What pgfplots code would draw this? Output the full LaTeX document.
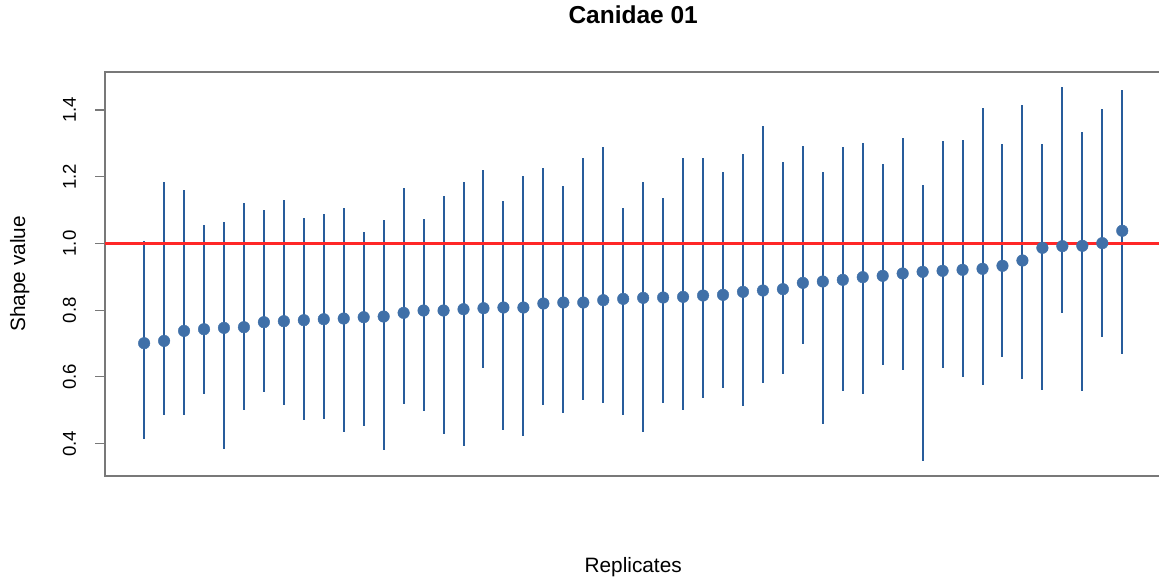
\documentclass[border=0pt]{standalone}
\usepackage{pgfplots}
\pgfplotsset{compat=1.18}
\usepackage{pgfplotstable}
\usepackage{fontspec}
\setmainfont{Liberation Sans}

\definecolor{dotblue}{RGB}{64,112,168}
\definecolor{barblue}{RGB}{40,92,155}
\definecolor{framegray}{RGB}{120,120,120}
\definecolor{refred}{RGB}{255,40,40}

% replicate, shape estimate, lower and upper interval bounds
\pgfplotstableread{
x  y     lo    hi
1  0.701 0.415 1.006
2  0.708 0.486 1.185
3  0.738 0.486 1.160
4  0.743 0.549 1.056
5  0.747 0.383 1.064
6  0.749 0.502 1.121
7  0.764 0.554 1.101
8  0.767 0.515 1.130
9  0.770 0.472 1.076
10 0.773 0.474 1.089
11 0.775 0.434 1.107
12 0.779 0.453 1.034
13 0.781 0.380 1.069
14 0.792 0.519 1.167
15 0.799 0.497 1.072
16 0.799 0.430 1.142
17 0.803 0.393 1.185
18 0.806 0.627 1.221
19 0.808 0.440 1.127
20 0.808 0.422 1.203
21 0.820 0.516 1.225
22 0.823 0.492 1.172
23 0.823 0.531 1.255
24 0.830 0.521 1.290
25 0.834 0.486 1.107
26 0.837 0.435 1.185
27 0.838 0.522 1.136
28 0.840 0.500 1.257
29 0.844 0.536 1.257
30 0.846 0.566 1.213
31 0.855 0.512 1.269
32 0.859 0.583 1.352
33 0.863 0.608 1.245
34 0.882 0.698 1.292
35 0.886 0.459 1.213
36 0.891 0.557 1.290
37 0.899 0.549 1.301
38 0.903 0.637 1.239
39 0.910 0.621 1.316
40 0.915 0.348 1.175
41 0.918 0.627 1.306
42 0.921 0.601 1.309
43 0.924 0.575 1.406
44 0.933 0.659 1.299
45 0.949 0.593 1.415
46 0.987 0.561 1.299
47 0.992 0.793 1.469
48 0.993 0.559 1.335
49 1.001 0.721 1.403
50 1.038 0.669 1.460
}\shapedata

% horizontal reference level
\pgfplotstableread{
x      y
-0.96  1
51.96  1
}\refline

\begin{document}
\begin{tikzpicture}
\path[use as bounding box] (0pt,0pt) rectangle (1159pt,581pt);
\begin{axis}[
  at={(105pt,105pt)}, anchor=south west,
  scale only axis, width=1056.4pt, height=404pt,
  xmin=-0.96, xmax=51.96, ymin=0.303, ymax=1.514,
  xtick=\empty,
  ytick={0.4,0.6,...,1.4},
  /pgf/number format/fixed,
  /pgf/number format/fixed zerofill,
  /pgf/number format/precision=1,
  /pgf/number format/assume math mode=true,
  tick align=outside, major tick length=10pt,
  tick style={draw=framegray, line width=1.1pt},
  axis line style={draw=framegray, line width=1.1pt},
  yticklabel style={font=\fontsize{18.6}{22}\selectfont, xshift=-19pt, rotate=90, anchor=base},
  title={Canidae 01},
  title style={font=\fontsize{24.5}{29}\selectfont\bfseries, at={(axis description cs:0.5,1.104)}, anchor=base},
  xlabel={Replicates},
  xlabel style={font=\fontsize{20.8}{25}\selectfont, at={(axis description cs:0.5,-0.240)}, anchor=base},
  ylabel={Shape value},
  ylabel style={font=\fontsize{20.8}{25}\selectfont, at={(axis description cs:-0.0757,0.5)}, anchor=base},
  clip=true,
]
  % interval bars
  \addplot[draw=none, mark=none, forget plot,
    error bars/.cd, y dir=both, y explicit, error mark=none,
    error bar style={line width=2pt, draw=barblue}]
    table[x=x, y=y,
      y error plus expr=\thisrow{hi}-\thisrow{y},
      y error minus expr=\thisrow{y}-\thisrow{lo}] {\shapedata};
  % point estimates
  \addplot[only marks, mark=*, mark size=5.8pt,
    mark options={draw=dotblue, fill=dotblue}]
    table[x=x, y=y] {\shapedata};
  % reference line at shape value 1, drawn over the bars
  \addplot[draw=refred, line width=2.1pt, no markers, forget plot] table[x=x, y=y] {\refline};
\end{axis}
\end{tikzpicture}
\end{document}
